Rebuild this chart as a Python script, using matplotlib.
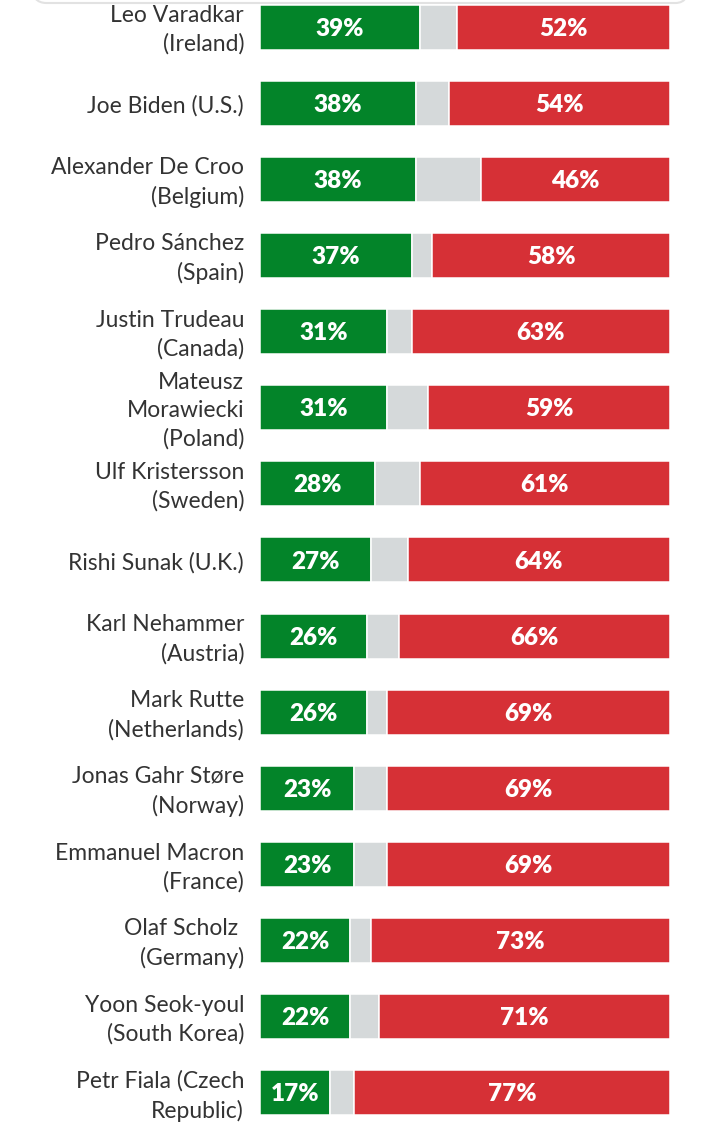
import matplotlib
matplotlib.use("Agg")
import matplotlib.pyplot as plt
import matplotlib.transforms as mtransforms
from matplotlib.patches import FancyBboxPatch

leaders = [
    "Leo Varadkar\n(Ireland)",
    "Joe Biden (U.S.)",
    "Alexander De Croo\n(Belgium)",
    "Pedro Sánchez\n(Spain)",
    "Justin Trudeau\n(Canada)",
    "Mateusz\nMorawiecki\n(Poland)",
    "Ulf Kristersson\n(Sweden)",
    "Rishi Sunak (U.K.)",
    "Karl Nehammer\n(Austria)",
    "Mark Rutte\n(Netherlands)",
    "Jonas Gahr Støre\n(Norway)",
    "Emmanuel Macron\n(France)",
    "Olaf Scholz \n(Germany)",
    "Yoon Seok-youl\n(South Korea)",
    "Petr Fiala (Czech\nRepublic)",
]
approve = [39, 38, 38, 37, 31, 31, 28, 27, 26, 26, 23, 23, 22, 22, 17]
disapprove = [52, 54, 46, 58, 63, 59, 61, 64, 66, 69, 69, 69, 73, 71, 77]

GREEN = "#038429"
GRAY = "#d5d9da"
RED = "#d63036"

W, H = 720, 1136
fig = plt.figure(figsize=(W / 100, H / 100), dpi=100)
fig.patch.set_facecolor("white")

# card edge at top
card = FancyBboxPatch((32 / W, 1 - 3 / H), (690 - 32) / W, 40 / H,
                      boxstyle="round,pad=0,rounding_size=0.02",
                      transform=fig.transFigure, facecolor="none",
                      edgecolor="#e2e2e2", linewidth=1.5, zorder=-1)
fig.patches.append(card)

ax = fig.add_axes([260 / W, 0, 410 / W, 1])
ax.set_facecolor("none")
step = 76.14
ax.set_xlim(0, 100)
ax.set_ylim((H - 27) / step, -27 / step)

ys = list(range(len(leaders)))
neutral = [100 - a - d for a, d in zip(approve, disapprove)]
bh = 45 / step
ax.barh(ys, approve, height=bh, color=GREEN, edgecolor="white", linewidth=1.1)
ax.barh(ys, neutral, left=approve, height=bh, color=GRAY, edgecolor="white", linewidth=1.1)
left_red = [a + n for a, n in zip(approve, neutral)]
ax.barh(ys, disapprove, left=left_red, height=bh, color=RED, edgecolor="white", linewidth=1.1)

for y, a, lr, d in zip(ys, approve, left_red, disapprove):
    ax.text(a / 2, y + 0.02, f"{a}%", ha="center", va="center", color="white",
            fontsize=17.5, fontweight="heavy", family="Lato")
    ax.text(lr + d / 2, y + 0.02, f"{d}%", ha="center", va="center", color="white",
            fontsize=17.5, fontweight="heavy", family="Lato")

ax.set_yticks(ys)
ax.set_yticklabels(leaders, fontsize=16.5, family="Lato", color="#333333",
                   linespacing=1.43, ha="right", va="center")
ax.tick_params(axis="y", length=0, pad=11.5)
ax.tick_params(axis="x", bottom=False, labelbottom=False)
for s in ax.spines.values():
    s.set_visible(False)

offset = mtransforms.ScaledTranslation(0, -3 / 100, fig.dpi_scale_trans)
for lab in ax.get_yticklabels():
    lab.set_transform(lab.get_transform() + offset)

fig.savefig("out.png", dpi=100, facecolor="white")
